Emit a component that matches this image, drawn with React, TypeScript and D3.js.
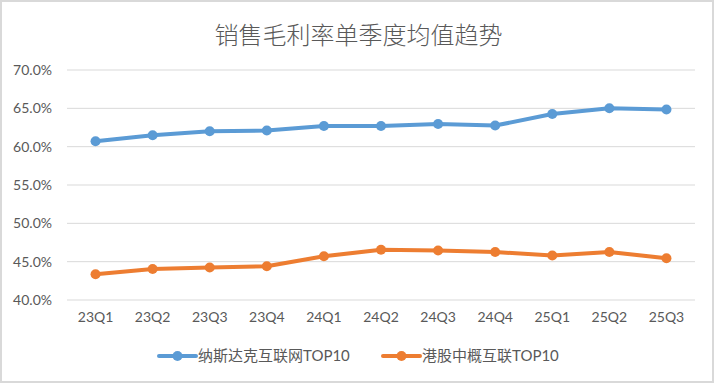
import React, { useRef, useEffect } from 'react';
import * as d3 from 'd3';

// 季度
const quarters = ['23Q1', '23Q2', '23Q3', '23Q4', '24Q1', '24Q2', '24Q3', '24Q4', '25Q1', '25Q2', '25Q3'];
// 纳斯达克互联网TOP10 (%)
const nasdaqValues = [60.7, 61.5, 62.0, 62.1, 62.7, 62.7, 62.95, 62.75, 64.25, 65.0, 64.85];
// 港股中概互联TOP10 (%)
const hkValues = [43.35, 44.05, 44.25, 44.4, 45.7, 46.55, 46.45, 46.25, 45.8, 46.25, 45.45];
const yTicks = [40, 45, 50, 55, 60, 65, 70];
const seriesNames = ['纳斯达克互联网TOP10', '港股中概互联TOP10'];
const seriesColors = ['#5B9BD5', '#ED7D31'];

const fontStack = "Lato, 'Noto Sans CJK SC', sans-serif";

const App: React.FC = () => {
  const svgRef = useRef<SVGSVGElement | null>(null);
  const chartWidth = 715;
  const chartHeight = 384;

  useEffect(() => {
    if (!svgRef.current) return;
    d3.select(svgRef.current).selectAll('*').remove();

    const margin = { top: 70, right: 20, bottom: 84, left: 67 };
    const width = 695 - margin.left;
    const height = 300 - margin.top;

    const root = d3.select(svgRef.current)
      .attr('width', chartWidth)
      .attr('height', chartHeight)
      .style('background-color', '#fff');

    // 外框
    root.append('rect')
      .attr('x', 1)
      .attr('y', 1)
      .attr('width', chartWidth - 3)
      .attr('height', chartHeight - 3)
      .attr('fill', '#fff')
      .attr('stroke', '#d9d9d9')
      .attr('stroke-width', 2);

    // 标题
    root.append('text')
      .attr('x', chartWidth / 2 + 1)
      .attr('y', 44)
      .attr('text-anchor', 'middle')
      .attr('fill', '#595959')
      .style('font-family', "'Noto Sans CJK SC', sans-serif")
      .style('font-weight', 300)
      .style('font-size', '24px')
      .text('销售毛利率单季度均值趋势');

    const svg = root.append('g')
      .attr('transform', `translate(${margin.left},${margin.top})`);

    const xScale = d3.scaleBand<string>()
      .domain(quarters)
      .range([0, width]);

    const yScale = d3.scaleLinear<number, number>()
      .domain([40, 70])
      .range([height, 0]);

    // 网格线
    svg.append('g')
      .selectAll('line')
      .data(yTicks)
      .enter().append('line')
      .attr('x1', 0)
      .attr('x2', width)
      .attr('y1', d => yScale(d))
      .attr('y2', d => yScale(d))
      .attr('stroke', '#d9d9d9')
      .attr('stroke-width', 1);

    // Y轴标签
    const yAxis = svg.append('g')
      .call(d3.axisLeft(yScale).tickValues(yTicks).tickSize(0).tickPadding(15).tickFormat(d => `${(+d).toFixed(1)}%`));
    yAxis.select('.domain').remove();
    yAxis.selectAll('text')
      .attr('fill', '#595959')
      .style('font-family', fontStack)
      .style('font-size', '14px');

    // X轴标签
    const xAxis = svg.append('g')
      .attr('transform', `translate(0,${height})`)
      .call(d3.axisBottom(xScale).tickSize(0).tickPadding(12));
    xAxis.select('.domain').remove();
    xAxis.selectAll('text')
      .attr('fill', '#595959')
      .style('font-family', fontStack)
      .style('font-size', '14px');

    const allSeries = [nasdaqValues, hkValues];

    const line = d3.line<number>()
      .x((_, i) => xScale(quarters[i])! + xScale.bandwidth() / 2)
      .y(d => yScale(d));

    allSeries.forEach((values, si) => {
      svg.append('path')
        .datum(values)
        .attr('fill', 'none')
        .attr('stroke', seriesColors[si])
        .attr('stroke-width', 4)
        .attr('stroke-linejoin', 'round')
        .attr('stroke-linecap', 'round')
        .attr('d', line);

      svg.selectAll(`.dot-${si}`)
        .data(values)
        .enter().append('circle')
        .attr('class', `dot-${si}`)
        .attr('cx', (_, i) => xScale(quarters[i])! + xScale.bandwidth() / 2)
        .attr('cy', d => yScale(d))
        .attr('r', 5)
        .attr('fill', seriesColors[si]);
    });

    // 图例
    const legendX = [159, 383];
    seriesNames.forEach((name, si) => {
      const g = root.append('g')
        .attr('transform', `translate(${legendX[si]},356)`);
      g.append('line')
        .attr('x1', 0)
        .attr('x2', 37)
        .attr('y1', 0)
        .attr('y2', 0)
        .attr('stroke', seriesColors[si])
        .attr('stroke-width', 4)
        .attr('stroke-linecap', 'round');
      g.append('circle')
        .attr('cx', 18.5)
        .attr('cy', 0)
        .attr('r', 5)
        .attr('fill', seriesColors[si]);
      g.append('text')
        .attr('x', 39)
        .attr('y', 0)
        .attr('dy', '0.36em')
        .attr('fill', '#595959')
        .style('font-family', fontStack)
        .style('font-size', '15px')
        .text(name);
    });
  }, []);

  return (
    <div style={{ position: 'absolute', left: 0, top: 0 }}>
      <svg ref={svgRef} style={{ display: 'block' }}></svg>
    </div>
  );
};

export default App;
